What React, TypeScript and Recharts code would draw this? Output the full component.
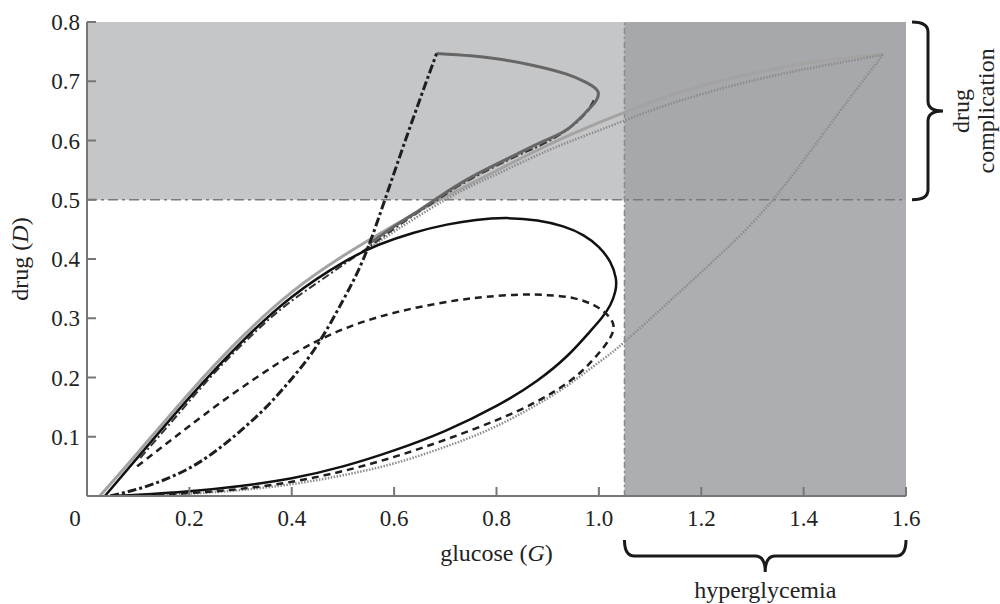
import React from "react";
import {
  ComposedChart,
  Line,
  XAxis,
  YAxis,
  ReferenceArea,
  ReferenceLine,
} from "recharts";

const FONT = '"Liberation Serif", "Times New Roman", serif';

const glucoseTicks = [0, 0.2, 0.4, 0.6, 0.8, 1.0, 1.2, 1.4, 1.6];
const drugTicks = [0.1, 0.2, 0.3, 0.4, 0.5, 0.6, 0.7, 0.8];

// thresholds
const hyperglycemiaLevel = 1.05;
const complicationLevel = 0.5;

// [glucose, drug]
const grayUpper = [
  [0.025, 0], [0.1, 0.074], [0.2, 0.174], [0.3, 0.266], [0.4, 0.344],
  [0.5, 0.405], [0.6, 0.457], [0.7, 0.505], [0.8, 0.549], [0.9, 0.592],
  [1.0, 0.63], [1.1, 0.664], [1.2, 0.692], [1.3, 0.713], [1.4, 0.73],
  [1.5, 0.741], [1.555, 0.746],
];

const grayDottedUpper = [
  [0.55, 0.418], [0.7, 0.5], [0.8, 0.543], [0.9, 0.583], [1.0, 0.617],
  [1.1, 0.65], [1.2, 0.678], [1.3, 0.701], [1.4, 0.72], [1.5, 0.736],
  [1.555, 0.745],
];

const grayDottedReturn = [
  [1.555, 0.745], [1.45, 0.625], [1.34, 0.5], [1.24, 0.41], [1.14, 0.33],
  [1.05, 0.26], [1.01, 0.232], [0.96, 0.2], [0.9, 0.165], [0.8, 0.118],
  [0.7, 0.083], [0.6, 0.055], [0.5, 0.035], [0.4, 0.02], [0.3, 0.01],
  [0.2, 0.004], [0.1, 0.001], [0.05, 0],
];

const solidLoop = [
  [0.035, 0], [0.1, 0.066], [0.2, 0.166], [0.3, 0.258], [0.4, 0.336],
  [0.5, 0.394], [0.57, 0.424], [0.637, 0.444], [0.703, 0.458], [0.76, 0.466],
  [0.82, 0.469], [0.88, 0.465], [0.93, 0.455], [0.97, 0.44], [1.0, 0.42],
  [1.022, 0.395], [1.033, 0.368], [1.032, 0.345], [1.022, 0.322], [1.005, 0.3],
  [0.98, 0.275], [0.94, 0.238], [0.88, 0.195], [0.8, 0.152], [0.7, 0.11],
  [0.6, 0.077], [0.5, 0.05], [0.4, 0.03], [0.3, 0.017], [0.2, 0.008],
  [0.1, 0.002], [0.05, 0],
];

const dashedLoop = [
  [0.098, 0.05], [0.15, 0.085], [0.2, 0.118], [0.26, 0.157], [0.326, 0.197],
  [0.39, 0.233], [0.455, 0.264], [0.52, 0.288], [0.586, 0.306], [0.65, 0.319],
  [0.72, 0.33], [0.78, 0.336], [0.846, 0.34], [0.9, 0.339], [0.95, 0.334],
  [0.99, 0.322], [1.015, 0.307], [1.028, 0.29], [1.025, 0.272], [1.01, 0.252],
  [0.98, 0.222], [0.94, 0.192], [0.88, 0.16], [0.8, 0.128], [0.7, 0.095],
  [0.6, 0.066], [0.5, 0.042], [0.4, 0.024], [0.3, 0.012], [0.2, 0.005],
  [0.1, 0.001], [0.05, 0],
];

const steepRise = [
  [0.045, 0], [0.1, 0.012], [0.15, 0.027], [0.2, 0.047], [0.25, 0.075],
  [0.3, 0.11], [0.35, 0.15], [0.4, 0.198], [0.45, 0.255], [0.5, 0.33],
  [0.54, 0.4], [0.58, 0.495], [0.63, 0.62], [0.683, 0.747],
];

const steepTop = [
  [0.683, 0.747], [0.75, 0.743], [0.807, 0.737], [0.87, 0.727], [0.937, 0.712],
  [0.975, 0.698], [0.998, 0.683], [0.993, 0.665], [0.975, 0.648], [0.937, 0.618],
  [0.89, 0.598], [0.84, 0.577], [0.79, 0.556], [0.742, 0.534], [0.69, 0.506],
  [0.64, 0.477], [0.6, 0.455], [0.55, 0.425],
];

const steepReturn = [
  [0.99, 0.668], [0.96, 0.633], [0.9, 0.598], [0.84, 0.574], [0.75, 0.535],
  [0.69, 0.503], [0.62, 0.463], [0.55, 0.42], [0.5, 0.39], [0.45, 0.36],
  [0.39, 0.323], [0.33, 0.278], [0.26, 0.218], [0.2, 0.16], [0.15, 0.11],
  [0.1, 0.06],
];

const toPts = (arr: number[][]) => arr.map(([g, d]) => ({ g, d }));

function HyperglycemiaArea(props: any) {
  const { x, y, width, height } = props;
  const left = x;
  const right = x + width;
  const mid = x + width / 2;
  const top = y + height + 44;
  const spine = top + 16;
  const tip = spine + 16;
  const r = 10;
  const d = `M${left},${top} Q${left},${spine} ${left + r},${spine} L${mid - r},${spine} Q${mid},${spine} ${mid},${tip} Q${mid},${spine} ${mid + r},${spine} L${right - r},${spine} Q${right},${spine} ${right},${top}`;
  return (
    <g>
      <rect x={x} y={y} width={width} height={height} fill="#acaeb1" />
      <path d={d} fill="none" stroke="#1a1a1a" strokeWidth={3} />
      <text x={mid} y={tip + 26} textAnchor="middle" fontFamily={FONT} fontSize={24} fill="#222">
        hyperglycemia
      </text>
    </g>
  );
}

function ComplicationArea(props: any) {
  const { x, y, width, height } = props;
  const x0 = x + width + 6;
  const x1 = x0 + 16;
  const x2 = x1 + 15;
  const top = y;
  const bottom = y + height;
  const mid = y + height / 2;
  const r = 10;
  const d = `M${x0},${top} Q${x1},${top} ${x1},${top + r} L${x1},${mid - r} Q${x1},${mid} ${x2},${mid} Q${x1},${mid} ${x1},${mid + r} L${x1},${bottom - r} Q${x1},${bottom} ${x0},${bottom}`;
  return (
    <g>
      <rect x={x} y={y} width={width} height={height} fill="#a6a8ab" />
      <path d={d} fill="none" stroke="#1a1a1a" strokeWidth={3} />
      <text transform={`translate(${x2 + 26},${mid}) rotate(-90)`} textAnchor="middle" fontFamily={FONT} fontSize={24} fill="#222">
        drug
      </text>
      <text transform={`translate(${x2 + 51},${mid}) rotate(-90)`} textAnchor="middle" fontFamily={FONT} fontSize={24} fill="#222">
        complication
      </text>
    </g>
  );
}

function GlucoseTick(props: any) {
  const { x, y, payload } = props;
  const v = payload.value;
  return (
    <text x={v === 0 ? x - 12 : x} y={y} dy="0.71em" textAnchor="middle" fontFamily={FONT} fontSize={23} fill="#222">
      {v === 0 ? "0" : v.toFixed(1)}
    </text>
  );
}

function GlucoseTitle(props: any) {
  const vb = props.viewBox;
  return (
    <text x={vb.x + vb.width / 2} y={vb.y + 65} textAnchor="middle" fontFamily={FONT} fontSize={24} fill="#222">
      glucose (<tspan fontStyle="italic">G</tspan>)
    </text>
  );
}

function DrugTitle(props: any) {
  const vb = props.viewBox;
  return (
    <text transform={`translate(28,${vb.y + vb.height / 2}) rotate(-90)`} textAnchor="middle" fontFamily={FONT} fontSize={24} fill="#222">
      drug (<tspan fontStyle="italic">D</tspan>)
    </text>
  );
}

export default function App() {
  return (
    <div style={{ position: "absolute", left: 0, top: 0, background: "#fff" }}>
      <ComposedChart width={1000} height={604} margin={{ top: 22, right: 94, bottom: 0, left: 0 }}>
        <XAxis
          type="number"
          dataKey="g"
          domain={[0, 1.6]}
          ticks={glucoseTicks}
          interval={0}
          allowDataOverflow
          height={108}
          stroke="#777"
          strokeWidth={2}
          tickSize={-9}
          tickMargin={23}
          tick={GlucoseTick}
          label={GlucoseTitle}
        />
        <YAxis
          type="number"
          dataKey="d"
          domain={[0, 0.8]}
          ticks={drugTicks}
          interval={0}
          allowDataOverflow
          width={87}
          stroke="#777"
          strokeWidth={2}
          tickSize={-9}
          tickMargin={16}
          tick={{ fontFamily: FONT, fontSize: 23, fill: "#222" }}
          tickFormatter={(v: number) => v.toFixed(1)}
          label={DrugTitle}
        />
        <ReferenceArea x1={0} x2={hyperglycemiaLevel} y1={complicationLevel} y2={0.8} fill="#c5c6c8" fillOpacity={1} />
        <ReferenceArea x1={hyperglycemiaLevel} x2={1.6} y1={0} y2={0.8} shape={HyperglycemiaArea} />
        <ReferenceArea x1={hyperglycemiaLevel} x2={1.6} y1={complicationLevel} y2={0.8} shape={ComplicationArea} />
        <ReferenceLine y={complicationLevel} stroke="#7a7a7a" strokeWidth={1.5} strokeDasharray="10 4 3 4" />
        <ReferenceLine x={hyperglycemiaLevel} stroke="#8a8a8a" strokeWidth={1.5} strokeDasharray="6 3 2 3" />

        <Line data={toPts(grayUpper)} dataKey="d" type="natural" stroke="#a3a3a3" strokeWidth={3} dot={false} isAnimationActive={false} />
        <Line data={toPts(grayDottedUpper)} dataKey="d" type="natural" stroke="#8c8c8c" strokeWidth={2.5} strokeDasharray="1.5 1.5" dot={false} isAnimationActive={false} />
        <Line data={toPts(grayDottedReturn)} dataKey="d" type="natural" stroke="#8c8c8c" strokeWidth={2.5} strokeDasharray="1.5 1.5" dot={false} isAnimationActive={false} />
        <Line data={toPts(steepReturn)} dataKey="d" type="natural" stroke="#333" strokeWidth={2} strokeDasharray="8 3 2 3" dot={false} isAnimationActive={false} />
        <Line data={toPts(solidLoop)} dataKey="d" type="natural" stroke="#111" strokeWidth={2.5} dot={false} isAnimationActive={false} />
        <Line data={toPts(dashedLoop)} dataKey="d" type="natural" stroke="#1e1e1e" strokeWidth={2.5} strokeDasharray="7 5" dot={false} isAnimationActive={false} />
        <Line data={toPts(steepTop)} dataKey="d" type="natural" stroke="#666" strokeWidth={3} dot={false} isAnimationActive={false} />
        <Line data={toPts(steepRise)} dataKey="d" type="natural" stroke="#1e1e1e" strokeWidth={3} strokeDasharray="9 3 3 3" dot={false} isAnimationActive={false} />
      </ComposedChart>
    </div>
  );
}
